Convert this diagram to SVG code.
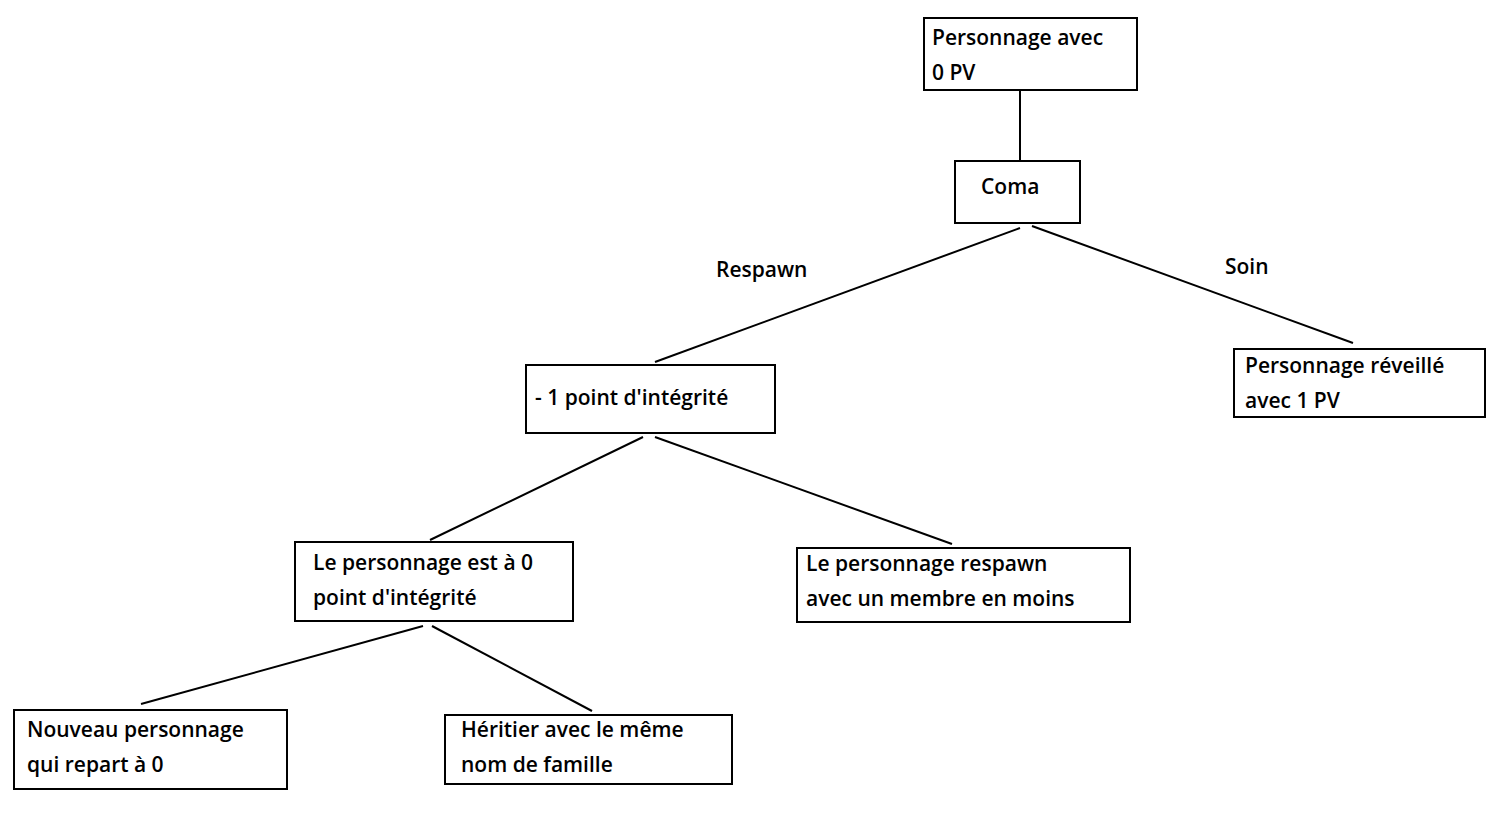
<svg xmlns="http://www.w3.org/2000/svg" width="1499" height="834" viewBox="0 0 1499 834">
<style>
rect{fill:#fff;stroke:#000;stroke-width:2}
line{stroke:#000;stroke-width:2}
text{font-family:"Open Sans","DejaVu Sans",sans-serif;font-weight:600;font-size:21px;fill:#000}
</style>
<rect x="0" y="0" width="1499" height="834" style="stroke:none"/>
<g id="connectors">
<line x1="1020" y1="90" x2="1020" y2="161"/>
<line x1="1020" y1="228" x2="655" y2="362"/>
<line x1="1032" y1="226" x2="1353" y2="343"/>
<line x1="643" y1="437" x2="430" y2="540"/>
<line x1="655" y1="437" x2="952" y2="544"/>
<line x1="423" y1="626" x2="141" y2="704"/>
<line x1="432" y1="626" x2="592" y2="711"/>
<text x="716" y="277">Respawn</text>
<text x="1225" y="274">Soin</text>
</g>
<g id="n1"><rect x="924" y="18" width="213" height="72"/><text x="932" y="45">Personnage avec</text><text x="932" y="80">0 PV</text></g>
<g id="n2"><rect x="955" y="161" width="125" height="62"/><text x="981" y="194">Coma</text></g>
<g id="n3"><rect x="526" y="365" width="249" height="68"/><text x="535" y="405">- 1 point d'intégrité</text></g>
<g id="n4"><rect x="1234" y="349" width="251" height="68"/><text x="1245" y="373">Personnage réveillé</text><text x="1245" y="408">avec 1 PV</text></g>
<g id="n5"><rect x="295" y="542" width="278" height="79"/><text x="313" y="570">Le personnage est à 0</text><text x="313" y="605">point d'intégrité</text></g>
<g id="n6"><rect x="797" y="548" width="333" height="74"/><text x="806" y="571">Le personnage respawn</text><text x="806" y="606">avec un membre en moins</text></g>
<g id="n7"><rect x="14" y="710" width="273" height="79"/><text x="27" y="737">Nouveau personnage</text><text x="27" y="772">qui repart à 0</text></g>
<g id="n8"><rect x="445" y="715" width="287" height="69"/><text x="461" y="737">Héritier avec le même</text><text x="461" y="772">nom de famille</text></g>
</svg>
